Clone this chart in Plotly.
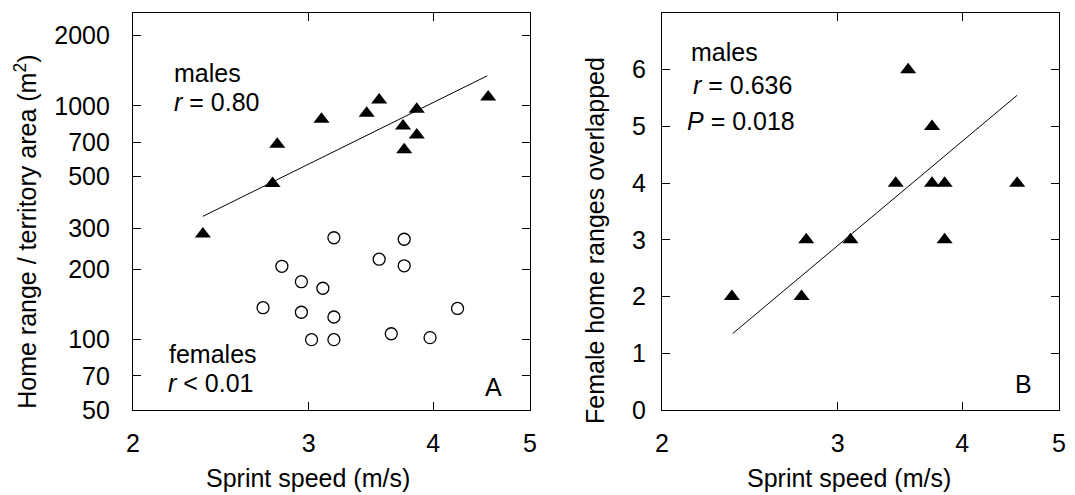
import math
import plotly.graph_objects as go

# ---------------- data ----------------
# Panel A: males (triangles)
male_speed = [2.35, 2.76, 2.79, 3.09, 3.43, 3.53, 3.73, 3.74, 3.85, 3.85, 4.54]
male_area = [283, 466, 686, 877, 930, 1061, 821, 649, 968, 752, 1093]
# Panel A: females (open circles)
female_speed = [2.70, 2.82, 2.95, 2.95, 3.02, 3.10, 3.18, 3.18, 3.18, 3.53, 3.63, 3.74, 3.74, 3.97, 4.23]
female_area = [137, 206, 177, 131, 100, 166, 273, 125, 100, 221, 106, 269, 207, 102, 136]
# Panel A: male regression line endpoints
fitA_speed = [2.35, 4.53]
fitA_area = [337, 1346]

# Panel B: males
b_speed = [2.35, 2.76, 2.79, 3.09, 3.43, 3.53, 3.73, 3.73, 3.84, 3.84, 4.54]
b_count = [2, 2, 3, 3, 4, 6, 5, 4, 4, 3, 4]
fitB_speed = [2.355, 4.54]
fitB_count = [1.35, 5.55]

# tick labels
x_ticks = [2, 3, 4, 5]
yA_ticks = [50, 70, 100, 200, 300, 500, 700, 1000, 2000]
yB_ticks = [0, 1, 2, 3, 4, 5, 6, 7]

FONT = "Liberation Sans, Arial, sans-serif"
FS = 25

# page has an 8px body margin: figure is drawn 8px in from the top-left
OFF = 8
W, H = 1075 - OFF, 495 - OFF

fig = go.Figure()

fig.add_trace(go.Scatter(x=fitA_speed, y=fitA_area, mode="lines",
                         line=dict(color="black", width=1), xaxis="x", yaxis="y",
                         showlegend=False, hoverinfo="skip"))
fig.add_trace(go.Scatter(x=male_speed, y=male_area, mode="markers",
                         marker=dict(symbol="triangle-up", size=14, color="black"),
                         xaxis="x", yaxis="y", name="males", showlegend=False))
fig.add_trace(go.Scatter(x=female_speed, y=female_area, mode="markers",
                         marker=dict(symbol="circle-open", size=12, color="black",
                                     line=dict(width=1.3, color="black")),
                         xaxis="x", yaxis="y", name="females", showlegend=False))

fig.add_trace(go.Scatter(x=fitB_speed, y=fitB_count, mode="lines",
                         line=dict(color="black", width=1), xaxis="x2", yaxis="y2",
                         showlegend=False, hoverinfo="skip"))
fig.add_trace(go.Scatter(x=b_speed, y=b_count, mode="markers",
                         marker=dict(symbol="triangle-up", size=14, color="black"),
                         xaxis="x2", yaxis="y2", name="males", showlegend=False))

common = dict(showline=True, linecolor="black", linewidth=1.2, mirror="ticks",
              ticks="inside", ticklen=8, tickwidth=1.2, tickcolor="black",
              showgrid=False, zeroline=False, automargin=False,
              tickfont=dict(family=FONT, size=FS, color="black"))

def px(p):
    return (p - OFF) / W

def py(p):
    return (410 - p) / 397

xdomA = [px(133), px(530)]
xdomB = [px(662), px(1059)]

fig.update_layout(
    width=W, height=H,
    margin=dict(l=0, r=0, t=13 - OFF, b=H - (410 - OFF), autoexpand=False),
    paper_bgcolor="white", plot_bgcolor="white",
    font=dict(family=FONT, size=FS, color="black"),
    xaxis=dict(common, type="log", domain=xdomA, anchor="y",
               range=[math.log10(2), math.log10(5)],
               tickvals=x_ticks, ticktext=[str(v) for v in x_ticks],
               ticklabelstandoff=11),
    yaxis=dict(common, type="log", domain=[0, 1], anchor="x",
               range=[math.log10(50), math.log10(2500)],
               tickvals=yA_ticks, ticktext=[str(v) for v in yA_ticks],
               ticklabelstandoff=17),
    xaxis2=dict(common, type="log", domain=xdomB, anchor="y2",
                range=[math.log10(2), math.log10(5)],
                tickvals=x_ticks, ticktext=[str(v) for v in x_ticks],
                ticklabelstandoff=11),
    yaxis2=dict(common, domain=[0, 1], anchor="x2", range=[0, 7],
                tickvals=yB_ticks, ticktext=[str(v) for v in yB_ticks],
                ticklabelstandoff=10),
)

# axis titles (placed as in the reference, which are not centred on the axes)
titles = [
    ("Sprint speed (m/s)", 307.6, 478, 0),
    ("Sprint speed (m/s)", 848.6, 478, 0),
    ("Home range / territory area (m<sup>2</sup>)", 25.8, 232, -90),
    ("Female home ranges overlapped", 595, 241, -90),
]
for text, x, y, ang in titles:
    fig.add_annotation(text=text, x=px(x), y=py(y), xref="paper", yref="paper",
                       xanchor="center", yanchor="middle", showarrow=False,
                       textangle=ang,
                       font=dict(family=FONT, size=FS, color="black"))

annots = [
    ("males", 172, 72.5, "left"),
    ("<i>r</i> = 0.80", 172, 102.4, "left"),
    ("females", 166.5, 353.5, "left"),
    ("<i>r</i> &lt; 0.01", 166, 383.4, "left"),
    ("A", 493, 386.7, "center"),
    ("males", 689, 52, "left"),
    ("<i>r</i> = 0.636", 691, 85, "left"),
    ("<i>P</i> = 0.018", 684.5, 121, "left"),
    ("B", 1023, 384, "center"),
]
for text, x, y, anc in annots:
    fig.add_annotation(text=text, x=px(x), y=py(y), xref="paper", yref="paper",
                       xanchor=anc, yanchor="middle", showarrow=False,
                       font=dict(family=FONT, size=FS, color="black"))

fig.write_html("out.html")
